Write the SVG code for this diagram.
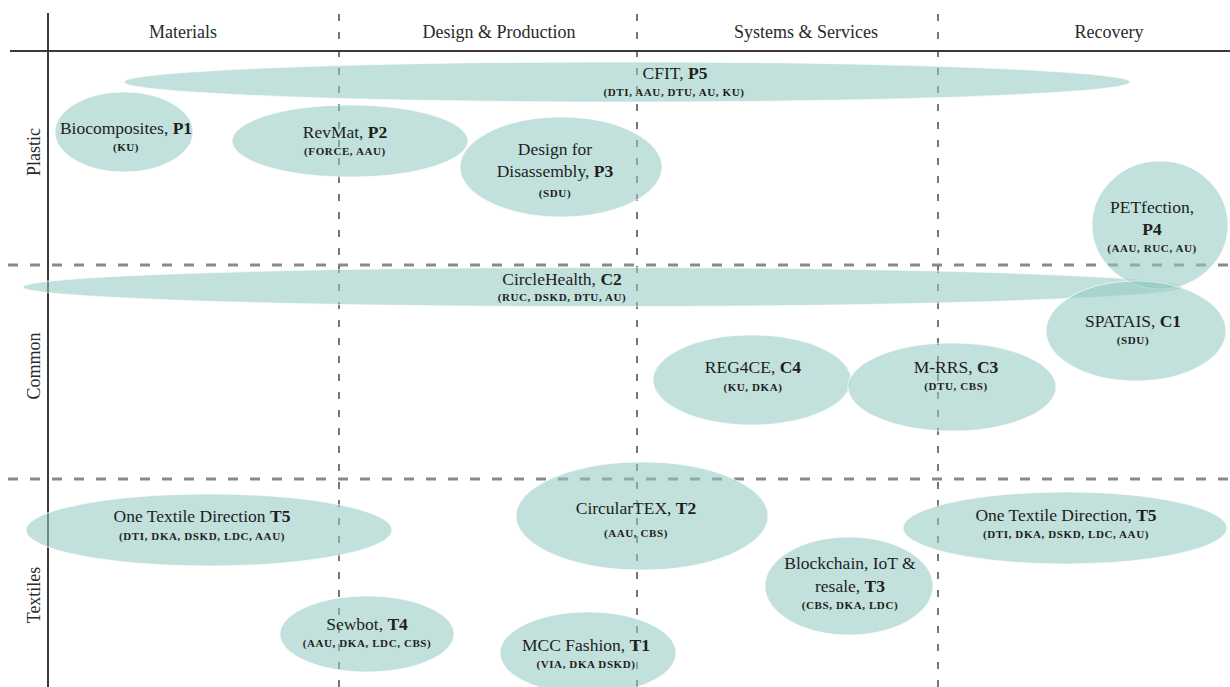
<svg xmlns="http://www.w3.org/2000/svg" width="1230" height="687" viewBox="0 0 1230 687">
<style>
  .bg { fill: #ffffff; }
  .node { fill: #92cac1; fill-opacity: 0.56; stroke: #ffffff; stroke-opacity: 0.6; stroke-width: 1.2; }
  .axis { stroke: #3a3a3a; stroke-width: 2; fill: none; }
  .vdash { stroke: #555555; stroke-width: 1.6; stroke-dasharray: 7 11; fill: none; }
  .hdash { stroke: #8a8a8a; stroke-width: 3; stroke-dasharray: 10 12; fill: none; }
  .hdr { font-family: "Liberation Serif", "Times New Roman", serif; font-size: 18px; fill: #2a2a2a; text-anchor: middle; }
  .t { font-family: "Liberation Serif", "Times New Roman", serif; font-size: 17.5px; fill: #1e1e1e; text-anchor: middle; }
  .t tspan.b { font-weight: bold; }
  .s { font-family: "Liberation Serif", "Times New Roman", serif; font-size: 11px; font-weight: bold; letter-spacing: 0.6px; fill: #1e1e1e; text-anchor: middle; }
</style>
<rect class="bg" x="0" y="0" width="1230" height="687"/>

<g id="grid">
  <line class="hdash" x1="8" y1="265" x2="1230" y2="265"/>
  <line class="hdash" x1="8" y1="479" x2="1230" y2="479"/>
  <line class="vdash" x1="339" y1="14" x2="339" y2="687"/>
  <line class="vdash" x1="637" y1="14" x2="637" y2="687"/>
  <line class="vdash" x1="938" y1="14" x2="938" y2="687"/>
  <line class="axis" x1="48" y1="13" x2="48" y2="687"/>
  <line class="axis" x1="10" y1="51" x2="1230" y2="51"/>
</g>

<g id="headers">
  <text class="hdr" x="183" y="38">Materials</text>
  <text class="hdr" x="499" y="38">Design &amp; Production</text>
  <text class="hdr" x="806" y="38">Systems &amp; Services</text>
  <text class="hdr" x="1109" y="38">Recovery</text>
  <text class="hdr" transform="translate(40,152) rotate(-90)">Plastic</text>
  <text class="hdr" transform="translate(40,366) rotate(-90)">Common</text>
  <text class="hdr" transform="translate(40,595) rotate(-90)">Textiles</text>
</g>

<g id="P5">
  <ellipse class="node" cx="627" cy="82" rx="503" ry="20"/>
  <text class="t" x="675" y="79">CFIT, <tspan class="b">P5</tspan></text>
  <text class="s" x="674" y="96">(DTI, AAU, DTU, AU, KU)</text>
</g>
<g id="P1">
  <ellipse class="node" cx="124" cy="132" rx="69" ry="40"/>
  <text class="t" x="126" y="134">Biocomposites, <tspan class="b">P1</tspan></text>
  <text class="s" x="126" y="151">(KU)</text>
</g>
<g id="P2">
  <ellipse class="node" cx="350" cy="141" rx="118" ry="36"/>
  <text class="t" x="345" y="138">RevMat, <tspan class="b">P2</tspan></text>
  <text class="s" x="345" y="155">(FORCE, AAU)</text>
</g>
<g id="P3">
  <ellipse class="node" cx="561" cy="167" rx="101" ry="50"/>
  <text class="t" x="555" y="155">Design for</text>
  <text class="t" x="555" y="177">Disassembly, <tspan class="b">P3</tspan></text>
  <text class="s" x="555" y="197">(SDU)</text>
</g>
<g id="C2">
  <ellipse class="node" cx="603" cy="287" rx="580" ry="19.5"/>
  <text class="t" x="562" y="285">CircleHealth, <tspan class="b">C2</tspan></text>
  <text class="s" x="562" y="301">(RUC, DSKD, DTU, AU)</text>
</g>
<g id="P4">
  <ellipse class="node" cx="1160" cy="225" rx="68" ry="64"/>
  <text class="t" x="1152" y="213">PETfection,</text>
  <text class="t" x="1152" y="235"><tspan class="b">P4</tspan></text>
  <text class="s" x="1152" y="252">(AAU, RUC, AU)</text>
</g>
<g id="C1">
  <ellipse class="node" cx="1136" cy="331" rx="90" ry="50"/>
  <text class="t" x="1133" y="327">SPATAIS, <tspan class="b">C1</tspan></text>
  <text class="s" x="1133" y="344">(SDU)</text>
</g>
<g id="C4">
  <ellipse class="node" cx="752" cy="380" rx="99" ry="45"/>
  <text class="t" x="753" y="373">REG4CE, <tspan class="b">C4</tspan></text>
  <text class="s" x="753" y="391">(KU, DKA)</text>
</g>
<g id="C3">
  <ellipse class="node" cx="952" cy="387" rx="104" ry="44"/>
  <text class="t" x="956" y="373">M-RRS, <tspan class="b">C3</tspan></text>
  <text class="s" x="956" y="390">(DTU, CBS)</text>
</g>
<g id="T5a">
  <ellipse class="node" cx="209" cy="530" rx="183" ry="36"/>
  <text class="t" x="202" y="522">One Textile Direction <tspan class="b">T5</tspan></text>
  <text class="s" x="202" y="540">(DTI, DKA, DSKD, LDC, AAU)</text>
</g>
<g id="T2">
  <ellipse class="node" cx="642" cy="516" rx="126" ry="54"/>
  <text class="t" x="636" y="514">CircularTEX, <tspan class="b">T2</tspan></text>
  <text class="s" x="636" y="537">(AAU, CBS)</text>
</g>
<g id="T5b">
  <ellipse class="node" cx="1065" cy="528" rx="162" ry="36"/>
  <text class="t" x="1066" y="521">One Textile Direction, <tspan class="b">T5</tspan></text>
  <text class="s" x="1066" y="538">(DTI, DKA, DSKD, LDC, AAU)</text>
</g>
<g id="T3">
  <ellipse class="node" cx="849" cy="586" rx="84" ry="49"/>
  <text class="t" x="850" y="569">Blockchain, IoT &amp;</text>
  <text class="t" x="850" y="592">resale, <tspan class="b">T3</tspan></text>
  <text class="s" x="850" y="609">(CBS, DKA, LDC)</text>
</g>
<g id="T4">
  <ellipse class="node" cx="367" cy="634" rx="87" ry="38"/>
  <text class="t" x="367" y="630">Sewbot, <tspan class="b">T4</tspan></text>
  <text class="s" x="367" y="647">(AAU, DKA, LDC, CBS)</text>
</g>
<g id="T1">
  <ellipse class="node" cx="588" cy="653" rx="88" ry="41"/>
  <text class="t" x="586" y="651">MCC Fashion, <tspan class="b">T1</tspan></text>
  <text class="s" x="586" y="668">(VIA, DKA DSKD)</text>
</g>
</svg>
